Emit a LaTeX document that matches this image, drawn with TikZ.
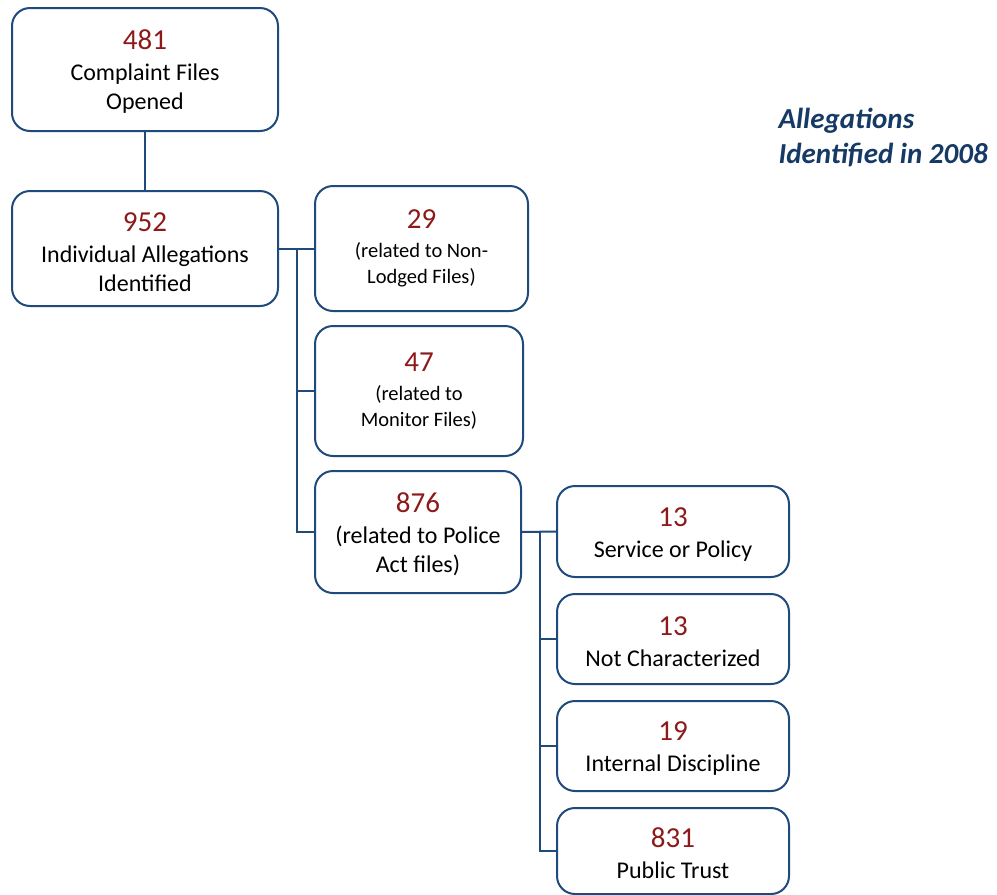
\documentclass[tikz,border=0pt]{standalone}
\usepackage{fontspec}
\setmainfont{Carlito}
\definecolor{boxblue}{HTML}{1F4A7C}
\definecolor{titleblue}{HTML}{163A66}
\definecolor{numred}{HTML}{8C1A1A}
\newcommand{\num}[2][24pt]{\textcolor{numred}{\fontsize{29}{30}\selectfont\rule{0pt}{#1}#2}}

\begin{document}
\begin{tikzpicture}[x=1pt, y=-1pt,
        box/.style = {draw=boxblue, line width=2pt, rounded corners=18pt,
            align=center, inner sep=0pt, font=\fontsize{24}{29}\selectfont},
        smallbox/.style = {box, font=\fontsize{20.5}{26}\selectfont},
        link/.style = {draw=boxblue, line width=2pt}]
        \useasboundingbox (0,0) rectangle (997,895);

        \node [box, minimum width=266pt, minimum height=123pt] (opened) at (145,69.5)
            {\num{481}\\[2pt]Complaint Files\\Opened};
        \node [box, minimum width=266pt, minimum height=115pt] (ident) at (145,248.5)
            {\num[27pt]{952}\\[2pt]Individual Allegations\\Identified};
        \node [smallbox, minimum width=213pt, minimum height=125pt] (nonlodged) at (421.5,248.5)
            {\num[0pt]{29}\\[3pt](related to Non-\\Lodged Files)};
        \node [smallbox, minimum width=208pt, minimum height=130pt] (monitor) at (419,391)
            {\num[0pt]{47}\\[3pt](related to\\Monitor Files)};
        \node [box, minimum width=206pt, minimum height=122pt] (police) at (418,532)
            {\num{876}\\[2pt](related to Police\\Act files)};
        \node [box, minimum width=232pt, minimum height=91pt] (service) at (673,531.5)
            {\num{13}\\[2pt]Service or Policy};
        \node [box, minimum width=232pt, minimum height=90pt] (notchar) at (673,639)
            {\num{13}\\[2pt]Not Characterized};
        \node [box, minimum width=232pt, minimum height=90pt] (internal) at (673,746)
            {\num{19}\\[2pt]Internal Discipline};
        \node [box, minimum width=232pt, minimum height=86pt] (public) at (673,851)
            {\num{831}\\[2pt]Public Trust};

        \node [anchor=base west, align=left, text=titleblue,
            font=\fontsize{29}{35}\selectfont\bfseries\itshape] (title) at (775,163)
            {Allegations\\Identified in 2008};

        % connectors
        \coordinate (busa) at (297,248.5);
        \coordinate (busb) at (540,532);
        \draw [link] (opened) -- (ident);
        \draw [link] (ident.east) -- (nonlodged.west);
        \draw [link] (busa) |- (monitor.west);
        \draw [link] (busa) |- (police.west);
        \draw [link] (police.east) -- (service.west);
        \draw [link] (busb) |- (notchar.west);
        \draw [link] (busb) |- (internal.west);
        \draw [link] (busb) |- (public.west);
    \end{tikzpicture}
\end{document}
